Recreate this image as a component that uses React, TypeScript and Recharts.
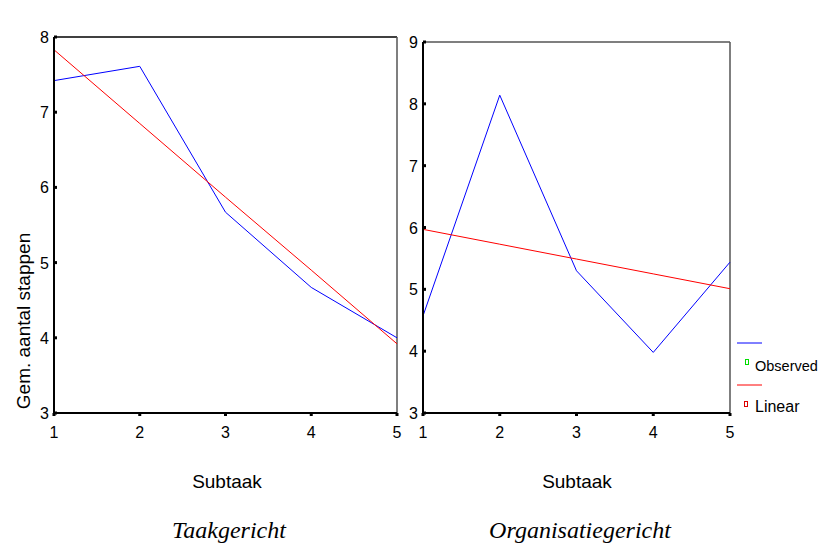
import React from "react";
import { LineChart, Line, XAxis, YAxis, ReferenceLine } from "recharts";

const subtaken = [1, 2, 3, 4, 5];

// Taakgericht
const taakObserved = [7.42, 7.61, 5.67, 4.67, 4.0];
const taakLinear = [7.83, 6.85, 5.87, 4.9, 3.92];

// Organisatiegericht
const orgObserved = [4.57, 8.14, 5.3, 3.98, 5.44];
const orgLinear = [5.97, 5.73, 5.49, 5.25, 5.01];

const taakTicks = [3, 4, 5, 6, 7, 8];
const orgTicks = [3, 4, 5, 6, 7, 8, 9];

const taakData = subtaken.map((x, i) => ({ x, observed: taakObserved[i], linear: taakLinear[i] }));
const orgData = subtaken.map((x, i) => ({ x, observed: orgObserved[i], linear: orgLinear[i] }));

const font = "'Liberation Sans', Arial, sans-serif";
const serif = "'Liberation Serif', 'Times New Roman', serif";

function YTick(props: any) {
  const { x, y, payload } = props;
  return (
    <g>
      <text x={x - 1} y={y} dy={6} textAnchor="end" fontSize={16} fontFamily={font} fill="#000">
        {payload.value}
      </text>
      <rect x={x + 4} y={y - 1.5} width={3} height={3} fill="#000" />
    </g>
  );
}

function XTick(props: any) {
  const { x, y, payload } = props;
  return (
    <g>
      <rect x={x - 1.5} y={y - 4} width={3} height={3} fill="#000" />
      <text x={x} y={y + 21} textAnchor="middle" fontSize={16} fontFamily={font} fill="#000">
        {payload.value}
      </text>
    </g>
  );
}

function Panel({ data, ticks, width, margin, yWidth, topColor }: any) {
  const yMax = ticks[ticks.length - 1];
  return (
    <LineChart width={width} height={544} data={data} margin={margin}>
      <XAxis
        dataKey="x"
        type="number"
        domain={[1, 5]}
        ticks={subtaken}
        height={30}
        tickSize={0}
        tickMargin={4}
        tickLine={false}
        axisLine={{ stroke: "#000", strokeWidth: 2 }}
        tick={<XTick />}
      />
      <YAxis
        type="number"
        domain={[3, yMax]}
        ticks={ticks}
        width={yWidth}
        tickSize={0}
        tickMargin={4}
        tickLine={false}
        axisLine={{ stroke: "#000", strokeWidth: 2 }}
        tick={<YTick />}
      />
      <ReferenceLine y={yMax} stroke={topColor} strokeWidth={1.5} />
      <ReferenceLine x={5} stroke="#555" strokeWidth={1.5} />
      <Line dataKey="observed" type="linear" stroke="#0000ff" strokeWidth={1} dot={false} isAnimationActive={false} />
      <Line dataKey="linear" type="linear" stroke="#ff0000" strokeWidth={1} dot={false} isAnimationActive={false} />
    </LineChart>
  );
}

export default function App() {
  const abs = (left: number, top: number): React.CSSProperties => ({ position: "absolute", left, top });
  const centered = (left: number, top: number, family: string, size: number, italic = false): React.CSSProperties => ({
    position: "absolute", left, top, transform: "translate(-50%, -50%)", fontFamily: family,
    fontSize: size, fontStyle: italic ? "italic" : "normal", whiteSpace: "nowrap", lineHeight: 1,
  });
  return (
    <div style={{ position: "fixed", left: 0, top: 0, width: 819, height: 544, overflow: "hidden", background: "#fff" }}>
      <div style={abs(0, 0)}>
        <Panel data={taakData} ticks={taakTicks} width={420} yWidth={30} topColor="#000"
          margin={{ top: 37, right: 23, bottom: 101, left: 24 }} />
      </div>
      <div style={abs(400, 0)}>
        <Panel data={orgData} ticks={orgTicks} width={360} yWidth={20} topColor="#555"
          margin={{ top: 42, right: 30, bottom: 101, left: 3 }} />
      </div>

      <div style={{ ...centered(23, 321, font, 19), transform: "translate(-50%, -50%) rotate(-90deg)" }}>
        Gem. aantal stappen
      </div>

      <div style={centered(227, 481, font, 19)}>Subtaak</div>
      <div style={centered(577, 481, font, 19)}>Subtaak</div>

      <div style={centered(229, 530, serif, 24, true)}>Taakgericht</div>
      <div style={centered(580, 530, serif, 24, true)}>Organisatiegericht</div>

      <svg style={abs(730, 330)} width={89} height={90}>
        <line x1={7} y1={13} x2={32} y2={13} stroke="#0000ff" strokeWidth={1} />
        <rect x={15.5} y={29.5} width={3} height={5} fill="none" stroke="#00dd00" strokeWidth={1} />
        <text x={25} y={41} fontFamily={font} fontSize={14.5} fill="#000">Observed</text>
        <line x1={7} y1={55} x2={32} y2={55} stroke="#ff0000" strokeWidth={1} />
        <rect x={14.5} y={71.5} width={3} height={5} fill="none" stroke="#dd0000" strokeWidth={1} />
        <text x={25} y={82} fontFamily={font} fontSize={16} fill="#000">Linear</text>
      </svg>
    </div>
  );
}
